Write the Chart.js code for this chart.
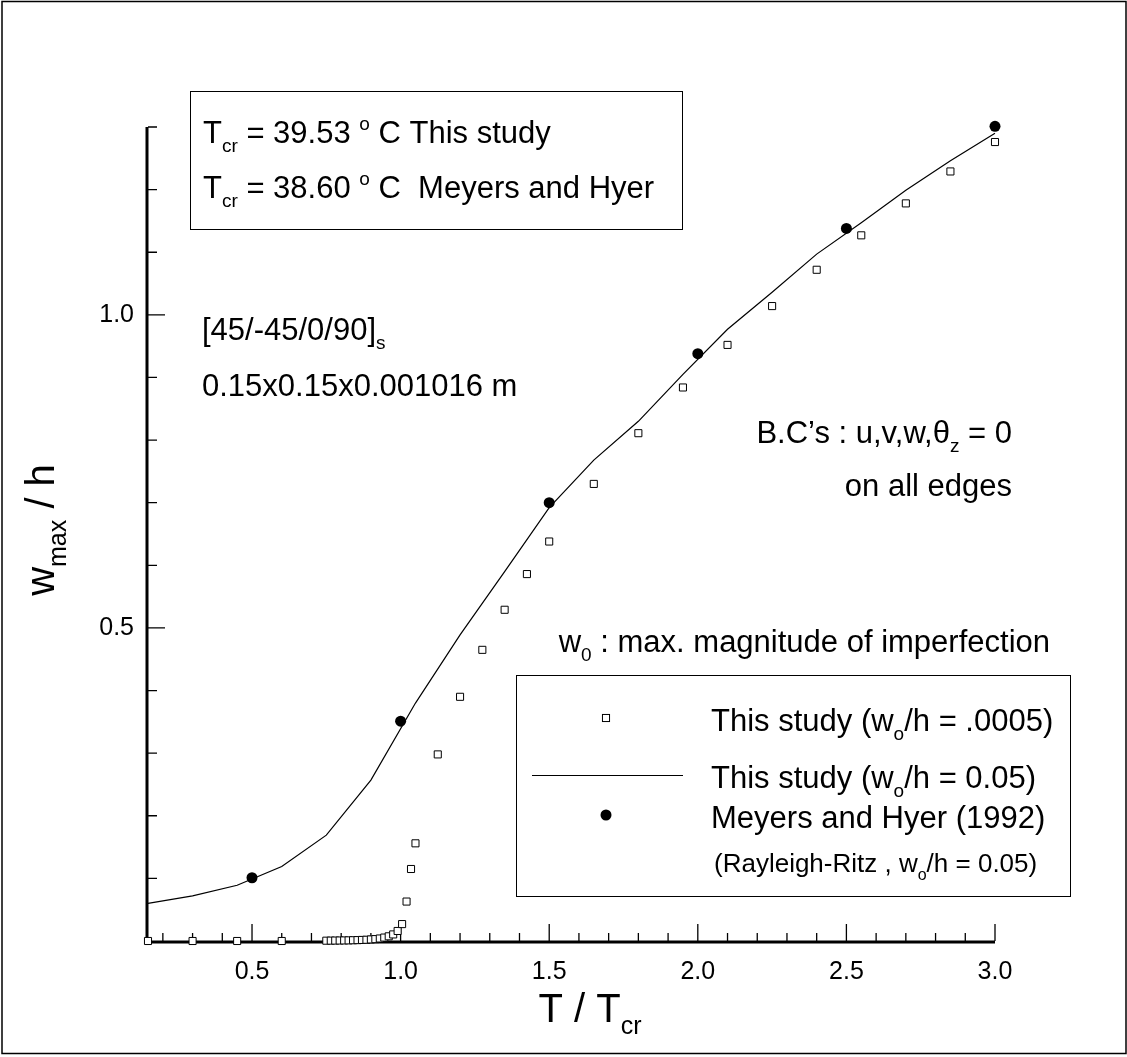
<!DOCTYPE html>
<html>
<head>
<meta charset="utf-8">
<script src="https://cdn.jsdelivr.net/npm/chart.js@4.4.0/dist/chart.umd.min.js"></script>
<style>
  html, body { margin: 0; padding: 0; background: #fff; }
  #wrap { position: relative; width: 1127px; height: 1057px; }
</style>
</head>
<body>
<div id="wrap"><canvas id="chart" width="1127" height="1057"></canvas></div>
<script>
// Serie de cuadros: w0/h = .0005
const squareX = [0.15, 0.3, 0.45, 0.6,
  0.75, 0.765, 0.78, 0.795, 0.81, 0.825, 0.84, 0.855, 0.87, 0.885, 0.9, 0.915, 0.93, 0.945, 0.96, 0.975, 0.99,
  1.005, 1.02, 1.035, 1.05, 1.125, 1.2, 1.275, 1.35, 1.425, 1.5, 1.65, 1.8, 1.95, 2.1, 2.25, 2.4, 2.55, 2.7, 2.85, 3.0];
const squareY = [0, 0, 0, 0,
  0.0005, 0.0006, 0.0007, 0.0008, 0.0009, 0.001, 0.0012, 0.0014, 0.0017, 0.002, 0.0025, 0.003, 0.004, 0.0055, 0.0075, 0.0105, 0.016,
  0.027, 0.063, 0.115, 0.156, 0.298, 0.390, 0.465, 0.529, 0.586, 0.638, 0.730, 0.811, 0.884, 0.952, 1.014, 1.072, 1.127, 1.178, 1.229, 1.276];

// Serie de linea: w0/h = 0.05
const lineX = [0.15, 0.3, 0.45, 0.6, 0.75, 0.9, 1.05, 1.2, 1.35, 1.5, 1.65, 1.8, 1.95, 2.1, 2.25, 2.4, 2.55, 2.7, 2.85, 3.0];
const lineY = [0.060, 0.072, 0.089, 0.119, 0.169, 0.257, 0.380, 0.489, 0.590, 0.692, 0.768, 0.830, 0.905, 0.977, 1.036, 1.097, 1.147, 1.199, 1.246, 1.290];

// Meyers and Hyer (1992)
const dotX = [0.5, 1.0, 1.5, 2.0, 2.5, 3.0];
const dotY = [0.101, 0.351, 0.700, 0.938, 1.138, 1.301];

// Marcas de los ejes
const xMajorTicks = [0.5, 1.0, 1.5, 2.0, 2.5, 3.0];
const xTickLabels = ['0.5', '1.0', '1.5', '2.0', '2.5', '3.0'];
const xMinorTicks = [0.2, 0.3, 0.4, 0.6, 0.7, 0.8, 0.9, 1.1, 1.2, 1.3, 1.4, 1.6, 1.7, 1.8, 1.9, 2.1, 2.2, 2.3, 2.4, 2.6, 2.7, 2.8, 2.9];
const yMajorTicks = [0.5, 1.0];
const yTickLabels = ['0.5', '1.0'];
const yMinorTicks = [0.1, 0.2, 0.3, 0.4, 0.6, 0.7, 0.8, 0.9, 1.1, 1.2, 1.3];

const FONT = '"Liberation Sans", Arial, Helvetica, sans-serif';

const toPoints = (xs, ys) => xs.map((x, i) => ({ x: x, y: ys[i] }));

// Dibuja texto con subindices / superindices: parts = [[texto, 'sub'|'sup'|'']]
function drawRich(ctx, parts, x, y, size, align) {
  const fontFor = m => (m ? Math.round(size * 0.62) : size) + 'px ' + FONT;
  const widths = parts.map(([t, m]) => { ctx.font = fontFor(m); return ctx.measureText(t).width; });
  const total = widths.reduce((a, b) => a + b, 0);
  let cx = align === 'right' ? x - total : align === 'center' ? x - total / 2 : x;
  ctx.fillStyle = '#000';
  ctx.textAlign = 'left';
  ctx.textBaseline = 'alphabetic';
  parts.forEach(([t, m], i) => {
    ctx.font = fontFor(m);
    const dy = m === 'sub' ? size * 0.3 : m === 'sup' ? -size * 0.42 : 0;
    ctx.fillText(t, cx, y + dy);
    cx += widths[i];
  });
}

function drawSquare(ctx, x, y, r) {
  const s = Math.SQRT1_2 * r;
  ctx.fillStyle = '#fff';
  ctx.strokeStyle = '#000';
  ctx.lineWidth = 1;
  ctx.fillRect(x - s, y - s, 2 * s, 2 * s);
  ctx.strokeRect(x - s, y - s, 2 * s, 2 * s);
}

const axesPlugin = {
  id: 'axesPlugin',
  beforeDatasetsDraw(chart) {
    const { ctx, scales: { x, y } } = chart;
    const x0 = x.getPixelForValue(x.min);
    const x1 = x.getPixelForValue(x.max);
    const y0 = y.getPixelForValue(0);
    const y1 = y.getPixelForValue(y.max);
    ctx.save();
    // marco exterior
    ctx.strokeStyle = '#000';
    ctx.lineWidth = 1.5;
    ctx.strokeRect(2, 1.5, 1124, 1052);
    // ejes
    ctx.lineWidth = 3;
    ctx.beginPath();
    ctx.moveTo(x0 - 1, y1);
    ctx.lineTo(x0 - 1, y0 + 1);
    ctx.lineTo(x1, y0 + 1);
    ctx.stroke();
    // marcas
    ctx.lineWidth = 1.3;
    ctx.beginPath();
    xMinorTicks.forEach(v => { const p = x.getPixelForValue(v); ctx.moveTo(p, y0); ctx.lineTo(p, y0 - 8); });
    xMajorTicks.forEach(v => { const p = x.getPixelForValue(v); ctx.moveTo(p, y0); ctx.lineTo(p, y0 - 17); });
    yMinorTicks.forEach(v => { const p = y.getPixelForValue(v); ctx.moveTo(x0, p); ctx.lineTo(x0 + 9, p); });
    yMajorTicks.forEach(v => { const p = y.getPixelForValue(v); ctx.moveTo(x0, p); ctx.lineTo(x0 + 17, p); });
    ctx.stroke();
    // etiquetas de ejes
    ctx.fillStyle = '#000';
    ctx.font = '25px ' + FONT;
    ctx.textAlign = 'center';
    ctx.textBaseline = 'alphabetic';
    xMajorTicks.forEach((v, i) => ctx.fillText(xTickLabels[i], x.getPixelForValue(v), 979));
    ctx.textAlign = 'right';
    ctx.textBaseline = 'middle';
    yMajorTicks.forEach((v, i) => ctx.fillText(yTickLabels[i], 134, y.getPixelForValue(v)));
    ctx.restore();
  },
  afterDraw(chart) {
    const { ctx } = chart;
    ctx.save();
    ctx.strokeStyle = '#000';
    ctx.lineWidth = 1;

    // titulos de ejes
    drawRich(ctx, [['T / T', ''], ['cr', 'sub']], 590, 1022, 40, 'center');
    ctx.save();
    ctx.translate(54, 530);
    ctx.rotate(-Math.PI / 2);
    drawRich(ctx, [['w', ''], ['max', 'sub'], [' / h', '']], 0, 0, 40, 'center');
    ctx.restore();

    // caja de temperaturas criticas
    ctx.strokeRect(190.5, 91.5, 492, 138);
    drawRich(ctx, [['T', ''], ['cr', 'sub'], [' = 39.53 ', ''], ['o', 'sup'], [' C This study', '']], 203, 143, 31, 'left');
    drawRich(ctx, [['T', ''], ['cr', 'sub'], [' = 38.60 ', ''], ['o', 'sup'], [' C  Meyers and Hyer', '']], 203, 198, 31, 'left');

    // laminado y dimensiones
    drawRich(ctx, [['[45/-45/0/90]', ''], ['s', 'sub']], 202, 340, 31, 'left');
    drawRich(ctx, [['0.15x0.15x0.001016 m', '']], 202, 396, 31, 'left');

    // condiciones de frontera
    drawRich(ctx, [['B.C\u2019s : u,v,w,\u03b8', ''], ['z', 'sub'], [' = 0', '']], 1012, 443, 31, 'right');
    drawRich(ctx, [['on all edges', '']], 1012, 496, 31, 'right');

    drawRich(ctx, [['w', ''], ['0', 'sub'], [' : max. magnitude of imperfection', '']], 1050, 652, 31, 'right');

    // leyenda
    ctx.strokeStyle = '#000';
    ctx.lineWidth = 1;
    ctx.strokeRect(516.5, 675.5, 554, 221);
    drawSquare(ctx, 606, 718, 5);
    ctx.strokeStyle = '#000';
    ctx.lineWidth = 1;
    ctx.beginPath();
    ctx.moveTo(532, 775.5);
    ctx.lineTo(683, 775.5);
    ctx.stroke();
    ctx.fillStyle = '#000';
    ctx.beginPath();
    ctx.arc(606, 815, 5.5, 0, Math.PI * 2);
    ctx.fill();
    drawRich(ctx, [['This study (w', ''], ['o', 'sub'], ['/h = .0005)', '']], 711, 731, 31, 'left');
    drawRich(ctx, [['This study (w', ''], ['o', 'sub'], ['/h = 0.05)', '']], 711, 788, 31, 'left');
    drawRich(ctx, [['Meyers and Hyer (1992)', '']], 711, 828, 31, 'left');
    drawRich(ctx, [['(Rayleigh-Ritz , w', ''], ['o', 'sub'], ['/h = 0.05)', '']], 714, 872, 26, 'left');
    ctx.restore();
  }
};

const chart = new Chart(document.getElementById('chart'), {
  type: 'scatter',
  data: {
    datasets: [
      {
        label: 'Meyers and Hyer (1992)',
        data: toPoints(dotX, dotY),
        pointStyle: 'circle',
        pointRadius: 5.5,
        pointBackgroundColor: '#000',
        pointBorderColor: '#000',
        pointBorderWidth: 0,
        showLine: false,
        clip: false,
        order: 0
      },
      {
        label: 'This study (wo/h = .0005)',
        data: toPoints(squareX, squareY),
        pointStyle: 'rect',
        pointRadius: 5,
        pointBackgroundColor: '#fff',
        pointBorderColor: '#000',
        pointBorderWidth: 1,
        showLine: false,
        clip: false,
        order: 1
      },
      {
        label: 'This study (wo/h = 0.05)',
        data: toPoints(lineX, lineY),
        showLine: true,
        borderColor: '#000',
        borderWidth: 1.2,
        pointRadius: 0,
        tension: 0,
        clip: false,
        order: 2
      }
    ]
  },
  options: {
    responsive: false,
    animation: false,
    devicePixelRatio: 1,
    layout: { padding: { left: 148, right: 132, top: 127, bottom: 116 } },
    plugins: { legend: { display: false }, tooltip: { enabled: false } },
    scales: {
      x: { type: 'linear', min: 0.15, max: 3.0, display: false },
      y: { type: 'linear', min: 0, max: 1.3, display: false }
    }
  },
  plugins: [axesPlugin]
});
</script>
</body>
</html>
